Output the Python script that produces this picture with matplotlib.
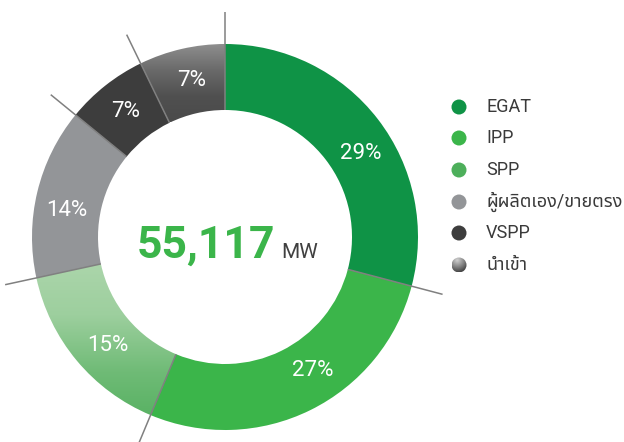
import numpy as np
import matplotlib
matplotlib.use("Agg")
import matplotlib.pyplot as plt
from matplotlib.colors import LinearSegmentedColormap
from matplotlib.patches import Circle

# share of installed capacity (%), clockwise from 12 o'clock
categories = ["EGAT", "IPP", "SPP", "ผู้ผลิตเอง/ขายตรง", "VSPP", "นำเข้า"]
shares = [29.1, 27.2, 15.3, 14.3, 6.9, 7.2]
pct_labels = ["29%", "27%", "15%", "14%", "7%", "7%"]
total_mw = "55,117"
unit = "MW"

colors = ["#0f9346", "#3bb54a", "#8cc78f", "#939598", "#3d3d3d", "#5e5e5e"]
label_shift = [-6, 7, 3, 4, 0, -1]   # small angle nudges (deg) for the % labels

plt.rcParams["font.family"] = ["Roboto", "Noto Sans Thai", "DejaVu Sans"]

W, H = 624, 442
fig = plt.figure(figsize=(W / 100, H / 100), dpi=100)
ax = fig.add_axes([0, 0, 1, 1])

cx, cy = 225, H - 237
r_out, r_in = 193, 127

wedges, _ = ax.pie(shares, colors=colors, startangle=90, counterclock=False,
                   radius=r_out, center=(cx, cy),
                   wedgeprops=dict(width=r_out - r_in, linewidth=0))

# gradient fills for SPP and import slices
spp_cmap = LinearSegmentedColormap.from_list("spp", ["#add6ac", "#9dcf9e", "#6fbb76", "#52af5e"])
imp_cmap = LinearSegmentedColormap.from_list("imp", ["#8e8e8e", "#6a6a6a", "#505050", "#4a4a4a"])
grad = np.linspace(0, 1, 256).reshape(-1, 1)
for idx, cmap, ext in [(2, spp_cmap, (cx - r_out, cx, cy - r_out, cy - 20)),
                       (5, imp_cmap, (cx - 100, cx + 2, cy + 115, cy + r_out))]:
    wedges[idx].set_facecolor("none")
    im = ax.imshow(grad, cmap=cmap, aspect="auto", extent=ext, origin="upper",
                   interpolation="bilinear", zorder=1)
    im.set_clip_path(wedges[idx])

# percentage labels
cum = np.concatenate([[0], np.cumsum(shares)]) / sum(shares)
r_lab = (r_out + r_in) / 2
for i, lab in enumerate(pct_labels):
    mid = np.deg2rad(90 - 360 * (cum[i] + cum[i + 1]) / 2 + label_shift[i])
    ax.text(cx + r_lab * np.cos(mid), cy + r_lab * np.sin(mid), lab,
            color="white", fontsize=16,
            ha="center", va="center", zorder=5)

# boundary lines
for c in cum[:-1]:
    a = np.deg2rad(90 - 360 * c)
    ax.plot([cx + r_in * np.cos(a), cx + 225 * np.cos(a)],
            [cy + r_in * np.sin(a), cy + 225 * np.sin(a)],
            color="#808080", lw=1.1, zorder=4, solid_capstyle="butt")

# centre total
ax.text(206, H - 258, total_mw, color="#3bb54a", fontsize=32, fontweight="bold",
        ha="center", va="baseline", zorder=5)
ax.text(281, H - 258, unit, color="#404040", fontsize=15, ha="left",
        va="baseline", zorder=5)

# legend
leg_y = [107, 138, 170, 202, 233, 265]
for i, (name, y) in enumerate(zip(categories, leg_y)):
    yy = H - y
    if i == 5:
        circ = Circle((459, yy), 7.5, facecolor="none", edgecolor="none")
        ax.add_patch(circ)
        xs, ys = np.meshgrid(np.linspace(-1, 1, 64), np.linspace(-1, 1, 64))
        d = np.sqrt((xs + 0.3) ** 2 + (ys + 0.6) ** 2)
        sph = LinearSegmentedColormap.from_list("sph", ["#d0d0d0", "#7a7a7a", "#1e1e1e"])
        im = ax.imshow(d, cmap=sph, extent=(451.5, 466.5, yy - 7.5, yy + 7.5),
                       origin="upper", aspect="auto", interpolation="bilinear", zorder=3)
        im.set_clip_path(circ)
    else:
        ax.add_patch(Circle((459, yy), 7.5, color=colors[i] if i != 2 else "#4daf5b", lw=0))
    ax.text(486, yy, name, color="#3a3a3a", fontsize=13, ha="left", va="center")

ax.set_xlim(0, W)
ax.set_ylim(0, H)
ax.set_aspect("equal")
ax.axis("off")

fig.savefig("out.png", dpi=100)
